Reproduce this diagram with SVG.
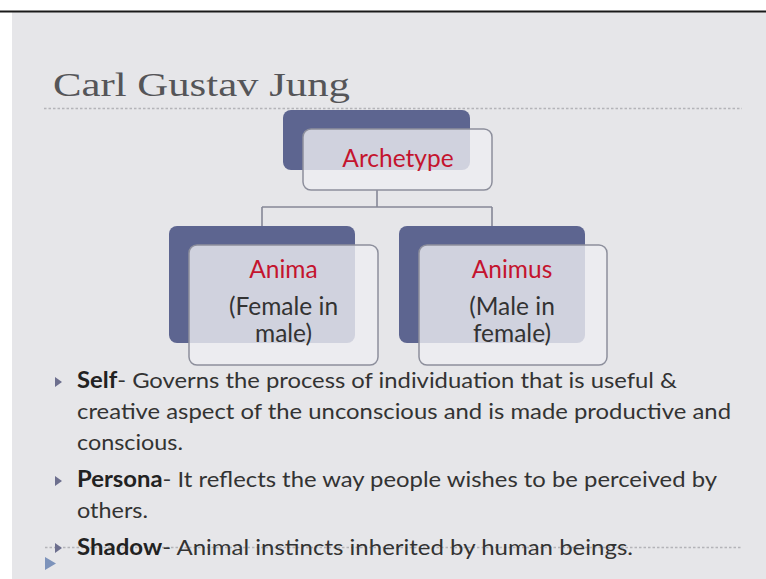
<svg xmlns="http://www.w3.org/2000/svg" width="766" height="579" viewBox="0 0 766 579">
<defs>
<style>
.bk{fill:#5d6590;}
.fr{fill:#eeeef1;fill-opacity:0.8;stroke:#8d8f9c;stroke-width:1.5;}
.red{fill:#c4142e;font-family:Lato,"Open Sans",sans-serif;font-size:24.5px;text-anchor:middle;}
.blk{fill:#333;font-family:Lato,"Open Sans",sans-serif;font-size:24.5px;text-anchor:middle;}
.conn{stroke:#868897;stroke-width:1.6;fill:none;}
.body{fill:#333;font-family:Lato,"Open Sans","Liberation Sans",sans-serif;font-size:22px;}
.b{font-weight:bold;fill:#222;}
.bul{fill:#6d6f8e;}
.dot{stroke:#b4b4b9;stroke-width:1.3;stroke-dasharray:2.5 2;}
</style>
</defs>
<rect x="0" y="0" width="766" height="579" fill="#ffffff"/>
<rect x="12" y="12" width="754" height="567" fill="#e6e6e9"/>
<rect x="0" y="10.5" width="766" height="2" fill="#1a1a1a"/>
<text x="53" y="96" font-family="'Liberation Serif',serif" font-size="33" fill="#555558" textLength="297" lengthAdjust="spacingAndGlyphs">Carl Gustav Jung</text>
<line class="dot" x1="44" y1="108.5" x2="742" y2="108.5"/>
<g id="connectors">
<path class="conn" d="M377 190 V207 M262 207 H492 M262 207 V226 M492 207 V226"/>
</g>
<g id="archetype">
<rect class="bk" x="283" y="110" width="187" height="60" rx="8"/>
<rect class="fr" x="303" y="129" width="189" height="61" rx="8"/>
<text class="red" x="398" y="167">Archetype</text>
</g>
<g id="anima">
<rect class="bk" x="169" y="226" width="186" height="117" rx="8"/>
<rect class="fr" x="189" y="245" width="189" height="120" rx="8"/>
<text class="red" x="283.5" y="278">Anima</text>
<text class="blk" x="283.5" y="315">(Female in</text>
<text class="blk" x="283.5" y="342">male)</text>
</g>
<g id="animus">
<rect class="bk" x="399" y="226" width="186" height="117" rx="8"/>
<rect class="fr" x="419" y="245" width="188" height="120" rx="8"/>
<text class="red" x="512" y="278">Animus</text>
<text class="blk" x="512" y="315">(Male in</text>
<text class="blk" x="512" y="342">female)</text>
</g>
<line class="dot" x1="45" y1="547.5" x2="742" y2="547.5"/>
<path class="bul" d="M55 377 L62 382 L55 387 Z"/>
<path class="bul" d="M55 476 L62 481 L55 486 Z"/>
<path class="bul" d="M55 543 L62 548 L55 553 Z"/>
<path d="M45 557 L56 563.5 L45 570 Z" fill="#7d93bb"/>
<text class="body" x="77" y="388" textLength="600" lengthAdjust="spacingAndGlyphs"><tspan class="b">Self</tspan>- Governs the process of individuation that is useful &amp;</text>
<text class="body" x="77" y="419" textLength="654" lengthAdjust="spacingAndGlyphs">creative aspect of the unconscious and is made productive and</text>
<text class="body" x="77" y="450" textLength="106" lengthAdjust="spacingAndGlyphs">conscious.</text>
<text class="body" x="77" y="487" textLength="640" lengthAdjust="spacingAndGlyphs"><tspan class="b">Persona</tspan>- It reflects the way people wishes to be perceived by</text>
<text class="body" x="77" y="518" textLength="71" lengthAdjust="spacingAndGlyphs">others.</text>
<text class="body" x="77" y="555" textLength="556" lengthAdjust="spacingAndGlyphs"><tspan class="b">Shadow</tspan>- Animal instincts inherited by human beings.</text>
</svg>
